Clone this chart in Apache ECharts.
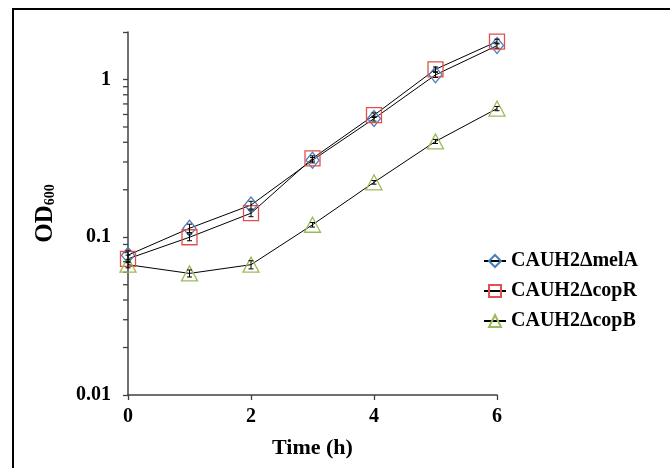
<!DOCTYPE html>
<html>
<head>
<meta charset="utf-8">
<script src="https://cdn.jsdelivr.net/npm/echarts@6/dist/echarts.min.js"></script>
<style>
  html, body { margin: 0; padding: 0; background: #fff; }
  #chart { width: 670px; height: 468px; }
</style>
</head>
<body>
<div id="chart"></div>
<script>
// sampling times (h)
const times = [0, 1, 2, 3, 4, 5, 6]
const seriesNames = ['CAUH2\u0394melA', 'CAUH2\u0394copR', 'CAUH2\u0394copB']

// OD600
const melA = [0.077, 0.114, 0.160, 0.308, 0.565, 1.07, 1.64]
const copR = [0.073, 0.100, 0.142, 0.316, 0.594, 1.16, 1.74]
const copB = [0.067, 0.059, 0.067, 0.120, 0.223, 0.405, 0.654]

// error (+/-)
const melAErr = [0.005, 0.007, 0.009, 0.012, 0.02, 0.04, 0.06]
const copRErr = [0.004, 0.005, 0.007, 0.012, 0.02, 0.04, 0.06]
const copBErr = [0.003, 0.003, 0.004, 0.004, 0.006, 0.012, 0.02]

const yTicks = [0.01, 0.1, 1]
const yTickLabels = ['0.01', '0.1', '1']
const yMinorTicks = [0.02, 0.03, 0.04, 0.05, 0.06, 0.07, 0.08, 0.09,
  0.2, 0.3, 0.4, 0.5, 0.6, 0.7, 0.8, 0.9]

const font = 'Liberation Serif'
const colors = ['#4a7ebb', '#e0504c', '#9bbb59']
const symbols = ['diamond', 'rect', 'triangle']
const symbolSizes = [[13, 16], 15, [16, 15]]

function pairs(vals) {
  return times.map((t, i) => [t, vals[i]])
}

function errData(vals, errs) {
  return times.map((t, i) => [t, vals[i] - errs[i], vals[i] + errs[i]])
}

function errSeries(vals, errs) {
  return {
    type: 'custom',
    silent: true,
    z: 3,
    data: errData(vals, errs),
    encode: { x: 0, y: [1, 2] },
    renderItem(params, api) {
      const lo = api.coord([api.value(0), api.value(1)])
      const hi = api.coord([api.value(0), api.value(2)])
      const w = 2.5
      const style = { stroke: '#000', lineWidth: 1 }
      return {
        type: 'group',
        children: [
          { type: 'line', shape: { x1: lo[0], y1: lo[1], x2: hi[0], y2: hi[1] }, style },
          { type: 'line', shape: { x1: lo[0] - w, y1: lo[1], x2: lo[0] + w, y2: lo[1] }, style },
          { type: 'line', shape: { x1: hi[0] - w, y1: hi[1], x2: hi[0] + w, y2: hi[1] }, style }
        ]
      }
    }
  }
}

const lineData = [melA, copR, copB]
const errs = [melAErr, copRErr, copBErr]

const series = []
lineData.forEach((vals, i) => {
  series.push({
    name: seriesNames[i],
    type: 'line',
    data: pairs(vals),
    symbol: symbols[i],
    symbolSize: symbolSizes[i],
    z: 2,
    lineStyle: { color: '#000', width: 1 },
    itemStyle: { color: 'rgba(0,0,0,0)', borderColor: colors[i], borderWidth: 1.3 }
  })
})
lineData.forEach((vals, i) => series.push(errSeries(vals, errs[i])))

// log minor ticks on the y axis
series.push({
  type: 'custom',
  silent: true,
  clip: false,
  data: yMinorTicks.map(v => [0, v]),
  renderItem(params, api) {
    const p = api.coord([api.value(0), api.value(1)])
    return {
      type: 'line',
      shape: { x1: p[0] - 5, y1: p[1], x2: p[0], y2: p[1] },
      style: { stroke: '#404040', lineWidth: 1.3 }
    }
  }
})

const chart = echarts.init(document.getElementById('chart'))
chart.setOption({
  animation: false,
  backgroundColor: '#fff',
  graphic: [{
    type: 'rect',
    shape: { x: 13, y: 9, width: 700, height: 500 },
    style: { fill: 'none', stroke: '#000', lineWidth: 2 },
    silent: true
  }],
  grid: { left: 128, right: 173, top: 32, bottom: 73 },
  legend: {
    orient: 'vertical',
    left: 478,
    top: 246,
    itemWidth: 22,
    itemHeight: 15,
    itemGap: 10,
    data: seriesNames,
    textStyle: { fontFamily: font, fontWeight: 'bold', fontSize: 20, color: '#000' }
  },
  xAxis: {
    type: 'value',
    min: 0,
    max: 6,
    interval: 2,
    name: 'Time (h)',
    nameLocation: 'middle',
    nameGap: 42,
    nameTextStyle: { fontFamily: font, fontWeight: 'bold', fontSize: 22, color: '#000' },
    splitLine: { show: false },
    axisLine: { lineStyle: { color: '#404040', width: 1.5 } },
    axisTick: { length: 5, lineStyle: { color: '#404040', width: 1.3 } },
    axisLabel: { margin: 12, fontFamily: font, fontWeight: 'bold', fontSize: 20, color: '#000' }
  },
  yAxis: {
    type: 'log',
    logBase: 10,
    min: 0.01,
    max: 2,
    name: '{a|OD}{b|600}',
    nameLocation: 'middle',
    nameGap: 70,
    nameTextStyle: {
      rich: {
        a: { fontFamily: font, fontWeight: 'bold', fontSize: 25, color: '#000' },
        b: { fontFamily: font, fontWeight: 'bold', fontSize: 14, color: '#000', padding: [10, 0, 0, 0] }
      }
    },
    splitLine: { show: false },
    axisLine: { show: true, lineStyle: { color: '#404040', width: 1.5 } },
    axisTick: { length: 5, lineStyle: { color: '#404040', width: 1.3 } },
    axisLabel: {
      margin: 17,
      fontFamily: font,
      fontWeight: 'bold',
      fontSize: 20,
      color: '#000',
      formatter(v) {
        const k = yTicks.findIndex(p => Math.abs(v - p) / p < 1e-6)
        return k >= 0 ? yTickLabels[k] : ''
      }
    }
  },
  series
})
</script>
</body>
</html>
